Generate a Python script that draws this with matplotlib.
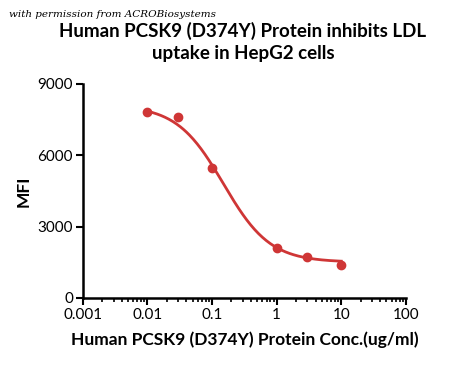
import numpy as np
import matplotlib
matplotlib.use("Agg")
import matplotlib.pyplot as plt
from matplotlib.ticker import LogLocator, FixedLocator, NullFormatter

# measured points
conc = [0.01, 0.03, 0.1, 1, 3, 10]
mfi = [7800, 7600, 5450, 2100, 1700, 1400]

# 4PL fit parameters
top, bottom, ec50, hill = 8100, 1500, 0.15, 1.2

x_ticks = [0.001, 0.01, 0.1, 1, 10, 100]
x_tick_labels = ["0.001", "0.01", "0.1", "1", "10", "100"]
y_ticks = [0, 3000, 6000, 9000]

red = "#cf3636"
plt.rcParams['font.family'] = ['Lato', 'DejaVu Sans']

fig = plt.figure(figsize=(4.5, 3.65), dpi=100)
ax = fig.add_axes([0.184, 0.184, 0.718, 0.586])

xs = np.logspace(-2, 1, 200)
fit = bottom + (top - bottom) / (1 + (xs / ec50) ** hill)
ax.plot(xs, fit, color=red, lw=2)
ax.plot(conc, mfi, 'o', color=red, ms=6)

ax.set_xscale('log')
ax.set_xlim(0.001, 100)
ax.set_ylim(0, 9000)
ax.xaxis.set_major_locator(FixedLocator(x_ticks))
ax.set_xticklabels(x_tick_labels)
ax.xaxis.set_minor_locator(LogLocator(base=10, subs=np.arange(2, 10)))
ax.xaxis.set_minor_formatter(NullFormatter())
ax.set_yticks(y_ticks)

for s in ['top', 'right']:
    ax.spines[s].set_visible(False)
for s in ['left', 'bottom']:
    ax.spines[s].set_linewidth(1.8)
ax.tick_params(which='major', length=5, width=1.5, labelsize=11, pad=2)
ax.tick_params(which='minor', length=3, width=1.2)

ax.set_xlabel("Human PCSK9 (D374Y) Protein Conc.(ug/ml)", fontsize=12.5, fontweight='bold', labelpad=7)
ax.set_ylabel("MFI", fontsize=12.5, fontweight='bold', labelpad=4)
fig.text(0.54, 0.885, "Human PCSK9 (D374Y) Protein inhibits LDL\nuptake in HepG2 cells",
         ha='center', va='center', fontsize=13.5, fontweight='bold', linespacing=1.35)
fig.text(0.02, 0.96, "with permission from ACROBiosystems", fontsize=7.5,
         family='DejaVu Serif', style='italic', ha='left', va='center')

fig.savefig("out.png", dpi=100)
